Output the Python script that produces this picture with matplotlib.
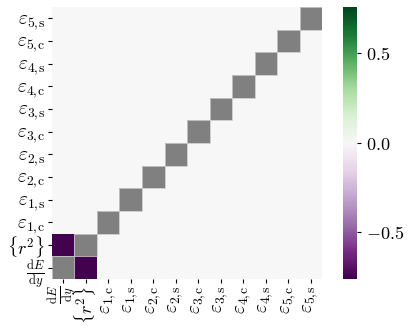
import numpy as np
import matplotlib
matplotlib.use("Agg")
import matplotlib.pyplot as plt

plt.rcParams['mathtext.fontset'] = 'cm'
plt.rcParams['font.family'] = 'serif'
plt.rcParams['font.serif'] = ['DejaVu Serif']

# parameter names (bottom to top / left to right)
labels = [r'$\frac{\mathrm{d}E}{\mathrm{d}y}$', r'$\{r^2\}$']
for k in range(1, 6):
    labels.append(r'$\varepsilon_{%d,\!\mathrm{c}}$' % k)
    labels.append(r'$\varepsilon_{%d,\!\mathrm{s}}$' % k)

n = len(labels)
# correlation between dE/dy and {r^2}; everything else ~ 0
corr_pair = -0.75
corr = np.zeros((n, n))
corr[0, 1] = corr_pair
corr[1, 0] = corr_pair
np.fill_diagonal(corr, np.nan)

vmin, vmax = -0.76, 0.76
cb_ticks = [-0.5, 0.0, 0.5]

fig = plt.figure(figsize=(4.12, 3.32), dpi=100)
ax = fig.add_axes([0.126, 0.16, 0.656, 0.819])
cax = fig.add_axes([0.833, 0.16, 0.034, 0.819])

ax.set_facecolor('gray')
data = np.ma.masked_invalid(corr)
mesh = ax.pcolormesh(data, cmap='PRGn', vmin=vmin, vmax=vmax, linewidth=0)
ax.set_xlim(0, n)
ax.set_ylim(0, n)
for s in ax.spines.values():
    s.set_visible(False)

# thin light border around the masked diagonal cells
for i in range(n):
    ax.add_patch(plt.Rectangle((i, i), 1, 1, fill=False, ec='#c8c8c8', lw=0.6))

pos = np.arange(n) + 0.5
ax.set_xticks(pos)
ax.set_xticklabels(labels, rotation=90, fontsize=14)
ax.set_yticks(pos)
ax.set_yticklabels(labels, fontsize=14)
for tl in ax.get_xticklabels()[:2] + ax.get_yticklabels()[:2]:
    tl.set_fontsize(13)
ax.tick_params(length=3, width=0.8, pad=2)

cb = fig.colorbar(mesh, cax=cax)
cb.outline.set_visible(False)
cb.set_ticks(cb_ticks)
cb.set_ticklabels([r'$%.1f$' % t if t != 0 else r'$0.0$' for t in cb_ticks])
cb.ax.tick_params(labelsize=13, length=3, width=0.8)

fig.savefig('out.png', dpi=100, facecolor='w')
